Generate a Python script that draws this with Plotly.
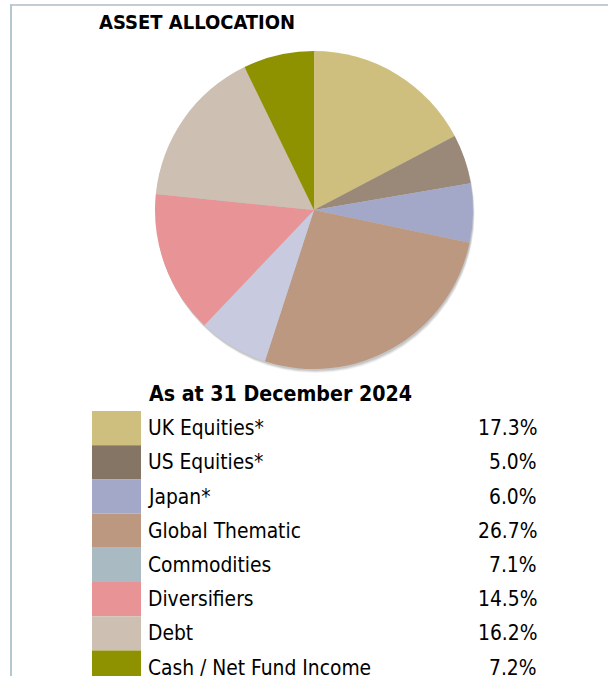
import plotly.graph_objects as go

W, H = 608, 676

categories = ["UK Equities*", "US Equities*", "Japan*", "Global Thematic",
              "Commodities", "Diversifiers", "Debt", "Cash / Net Fund Income"]
values = [17.3, 5.0, 6.0, 26.7, 7.1, 14.5, 16.2, 7.2]
value_labels = ["17.3%", "5.0%", "6.0%", "26.7%", "7.1%", "14.5%", "16.2%", "7.2%"]
pie_colors = ["#cfbf7f", "#9a8878", "#a3a8c9", "#bc9880",
              "#c8cbe0", "#e89496", "#cdbfb1", "#8f9200"]
legend_colors = ["#cfbf7f", "#857565", "#a3a8c9", "#bc9880",
                 "#a9bac3", "#e89496", "#cdbfb1", "#8f9200"]

title = "ASSET ALLOCATION"
subtitle = "As at 31 December 2024"


def px(x):
    return x / W


def py(y):
    return 1 - y / H


FONT = "DejaVu Sans Condensed, Tahoma, sans-serif"

# pie geometry (pixels)
cx, cy, r = 314, 210, 159

fig = go.Figure()
fig.add_trace(go.Pie(
    labels=categories, values=values,
    marker=dict(colors=pie_colors, line=dict(width=0)),
    sort=False, direction="clockwise", rotation=0,
    textinfo="none", hoverinfo="label+percent",
    showlegend=False,
    domain=dict(x=[px(cx - r), px(cx + r)], y=[py(cy + r), py(cy - r)]),
))

shapes = []
# frame lines
shapes.append(dict(type="line", xref="paper", yref="paper",
                   x0=px(11), x1=1, y0=py(5), y1=py(5),
                   line=dict(color="#c4ccd4", width=2)))
shapes.append(dict(type="line", xref="paper", yref="paper",
                   x0=px(11), x1=px(11), y0=py(4), y1=0,
                   line=dict(color="#b4c8d0", width=2)))
# soft pie shadow
for off, a in [(4, 0.06), (3, 0.08), (2, 0.10)]:
    shapes.append(dict(type="circle", xref="paper", yref="paper", layer="below",
                       x0=px(cx - r + off * 0.4), x1=px(cx + r + off * 0.4),
                       y0=py(cy + r + off), y1=py(cy - r + off),
                       fillcolor=f"rgba(0,0,0,{a})", line=dict(width=0)))

annotations = [
    dict(text=f"<b>{title}</b>", x=px(97), y=py(22), xref="paper", yref="paper",
         xanchor="left", yanchor="middle", showarrow=False,
         font=dict(family=FONT, size=20, color="#000000")),
    dict(text=f"<b>{subtitle}</b>", x=px(147), y=py(393), xref="paper", yref="paper",
         xanchor="left", yanchor="middle", showarrow=False,
         font=dict(family=FONT, size=21.2, color="#000000")),
]

row_top, row_h = 411, 34.2
for i, (cat, lab, col) in enumerate(zip(categories, value_labels, legend_colors)):
    top = row_top + row_h * i
    bot = min(top + row_h, H)
    mid = top + row_h / 2
    shapes.append(dict(type="rect", xref="paper", yref="paper",
                       x0=px(92), x1=px(141), y0=py(bot), y1=py(top),
                       fillcolor=col, line=dict(width=0)))
    annotations.append(dict(text=cat, x=px(146), y=py(mid), xref="paper", yref="paper",
                            xanchor="left", yanchor="middle", showarrow=False,
                            font=dict(family=FONT, size=20.8, color="#000000")))
    annotations.append(dict(text=lab, x=px(539), y=py(mid), xref="paper", yref="paper",
                            xanchor="right", yanchor="middle", showarrow=False,
                            font=dict(family=FONT, size=20.8, color="#000000")))

fig.update_layout(
    width=W, height=H, autosize=False,
    margin=dict(l=0, r=0, t=0, b=0),
    paper_bgcolor="#ffffff", plot_bgcolor="#ffffff",
    shapes=shapes, annotations=annotations,
)

fig.write_html("out.html")
